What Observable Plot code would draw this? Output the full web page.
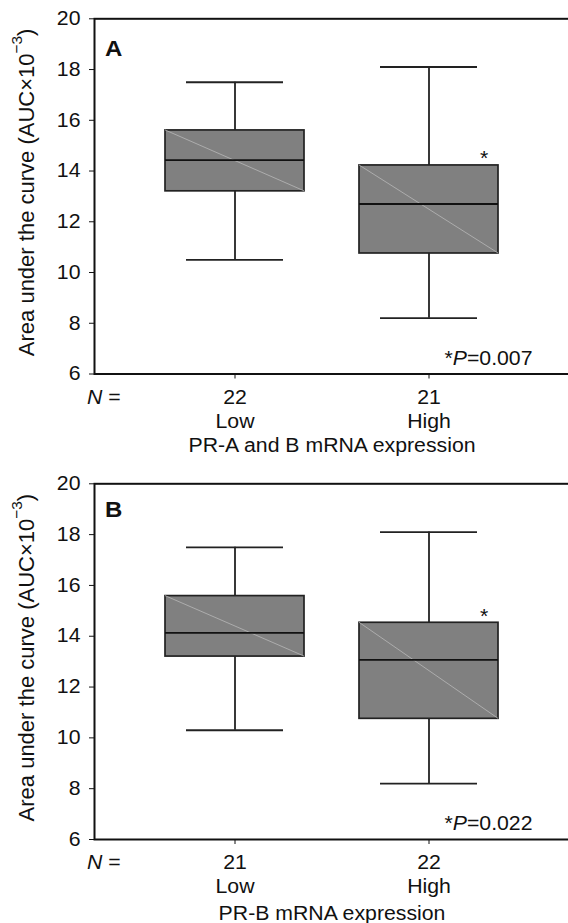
<!DOCTYPE html>
<html>
<head>
<meta charset="utf-8">
<script src="https://cdn.jsdelivr.net/npm/d3@7"></script>
<script src="https://cdn.jsdelivr.net/npm/@observablehq/plot@0.6"></script>
<style>
html, body { margin: 0; padding: 0; background: #fff; overflow: hidden; }
#chart { width: 568px; height: 923px; overflow: hidden; }
#chart svg { display: block; max-width: none !important; }
#chart svg text { font-family: "Liberation Sans", Arial, Helvetica, sans-serif; }
</style>
</head>
<body>
<div id="chart"></div>
<script>
// ---- data ----
const categories = ["Low", "High"];

// Panel A: PR-A and B mRNA expression
const aMin = [10.5, 8.2];
const aQ1 = [13.2, 10.75];
const aMedian = [14.43, 12.7];
const aQ3 = [15.6, 14.22];
const aMax = [17.5, 18.1];
const aN = [22, 21];

// Panel B: PR-B mRNA expression
const bMin = [10.3, 8.2];
const bQ1 = [13.2, 10.75];
const bMedian = [14.13, 13.07];
const bQ3 = [15.58, 14.53];
const bMax = [17.5, 18.1];
const bN = [21, 22];

const significant = [false, true];
const yTicks = [6, 8, 10, 12, 14, 16, 18, 20];
const panelLetters = ["A", "B"];
const xTitles = ["PR-A and B mRNA expression", "PR-B mRNA expression"];
const pLabels = ["*<i>P</i>=0.007", "*<i>P</i>=0.022"];
const yTitle = "Area under the curve (AUC×10<sup>−3</sup>)";
const nLabel = "<i>N</i> =";

// ---- drawing ----
const FONT = "'Liberation Sans', Arial, Helvetica, sans-serif";
const H_STRETCH = 1.09;

function rows(mn, q1, med, q3, mx, n) {
  return categories.map((c, i) => ({cat: c, min: mn[i], q1: q1[i], med: med[i], q3: q3[i], max: mx[i], n: n[i], star: significant[i]}));
}

function richify(svg) {
  svg.querySelectorAll("text").forEach(t => {
    const s = t.textContent;
    if (!/<(i|sup)>/.test(s)) return;
    while (t.firstChild) t.removeChild(t.firstChild);
    const re = /<(i|sup)>(.*?)<\/\1>/g;
    let last = 0, m, pendingReturn = false;
    const add = (txt, kind) => {
      if (!txt) return;
      const ts = document.createElementNS("http://www.w3.org/2000/svg", "tspan");
      ts.textContent = txt;
      if (kind === "i") ts.setAttribute("font-style", "italic");
      if (kind === "sup") { ts.setAttribute("font-size", "0.7em"); ts.setAttribute("dy", "-0.72em"); pendingReturn = true; }
      else if (pendingReturn) { ts.setAttribute("dy", "0.5em"); pendingReturn = false; }
      t.appendChild(ts);
    };
    while ((m = re.exec(s))) {
      add(s.slice(last, m.index), null);
      add(m[2], m[1]);
      last = re.lastIndex;
    }
    add(s.slice(last), null);
  });
}

function addDiagonals(svg) {
  svg.querySelectorAll('g[fill="#808080"] rect').forEach(r => {
    const x = +r.getAttribute("x"), y = +r.getAttribute("y");
    const w = +r.getAttribute("width"), h = +r.getAttribute("height");
    const ln = document.createElementNS("http://www.w3.org/2000/svg", "line");
    ln.setAttribute("x1", x); ln.setAttribute("y1", y);
    ln.setAttribute("x2", x + w); ln.setAttribute("y2", y + h);
    ln.setAttribute("stroke", "#b8b8b8");
    ln.setAttribute("stroke-width", "0.8");
    ln.setAttribute("fill", "none");
    r.parentNode.appendChild(ln);
  });
}

function stretchText(root) {
  root.querySelectorAll("svg text").forEach(t => {
    if ((t.getAttribute("transform") || "").includes("rotate")) return;
    const len = t.getComputedTextLength();
    if (len > 0) {
      t.setAttribute("textLength", (len * H_STRETCH).toFixed(2));
      t.setAttribute("lengthAdjust", "spacingAndGlyphs");
    }
  });
}

function panel(data, k, cfg) {
  const svg = Plot.plot({
    width: 570,
    height: cfg.height,
    marginLeft: 94,
    marginRight: 1,
    marginTop: cfg.marginTop,
    marginBottom: cfg.marginBottom,
    style: {fontFamily: FONT, fontSize: "19.5px", color: "#111", background: "transparent", overflow: "visible"},
    x: {domain: categories, paddingInner: 0.283, paddingOuter: 0.363, tickSize: 5, tickFormat: () => "", label: null},
    y: {domain: [6, 20], ticks: yTicks, tickSize: 5, tickPadding: 9, label: null},
    marks: [
      Plot.ruleX(data, {x: "cat", y1: "q3", y2: "max", stroke: "#222", strokeWidth: 1.8}),
      Plot.ruleX(data, {x: "cat", y1: "min", y2: "q1", stroke: "#222", strokeWidth: 1.8}),
      Plot.tickY(data, {x: "cat", y: "max", insetLeft: 21, insetRight: 21, stroke: "#222", strokeWidth: 1.8}),
      Plot.tickY(data, {x: "cat", y: "min", insetLeft: 21, insetRight: 21, stroke: "#222", strokeWidth: 1.8}),
      Plot.barY(data, {x: "cat", y1: "q1", y2: "q3", fill: "#808080", stroke: "#222", strokeWidth: 1.7}),
      Plot.tickY(data, {x: "cat", y: "med", stroke: "#111", strokeWidth: 1.8}),
      Plot.text(data.filter(d => d.star), {x: "cat", y: "q3", text: () => "*", dx: 55, lineAnchor: "bottom", fontSize: 19.5, fill: "#111"}),
      Plot.text(data, {x: "cat", text: d => String(d.n), frameAnchor: "bottom", dy: 29.5, lineAnchor: "bottom", fill: "#111"}),
      Plot.text(data, {x: "cat", text: "cat", frameAnchor: "bottom", dy: 53.5, lineAnchor: "bottom", fill: "#111"}),
      Plot.text([xTitles[k]], {text: d => d, frameAnchor: "bottom", dy: cfg.titleDy, lineAnchor: "bottom", fill: "#111"}),
      Plot.text([nLabel], {text: d => d, frameAnchor: "bottom-left", textAnchor: "start", dx: -7.5, dy: 29.5, lineAnchor: "bottom", fill: "#111"}),
      Plot.text([pLabels[k]], {text: d => d, frameAnchor: "bottom-right", textAnchor: "end", dx: -37, dy: -9.5, lineAnchor: "bottom", fill: "#111"}),
      Plot.text([panelLetters[k]], {text: d => d, frameAnchor: "top-left", textAnchor: "start", dx: 10.5, dy: cfg.letterDy, lineAnchor: "bottom", fontSize: 22, fontWeight: "bold", fill: "#111"}),
      Plot.text([yTitle], {text: d => d, frameAnchor: "left", rotate: -90, textAnchor: "middle", lineAnchor: "bottom", dx: -61, dy: -4, fontSize: 22, fill: "#111"}),
      Plot.frame({stroke: "#111", strokeWidth: 2})
    ]
  });
  richify(svg);
  addDiagonals(svg);
  return svg;
}

const chart = document.getElementById("chart");
chart.appendChild(panel(rows(aMin, aQ1, aMedian, aQ3, aMax, aN), 0, {height: 465, marginTop: 18.3, marginBottom: 91.5, titleDy: 78, letterDy: 36.7}));
chart.appendChild(panel(rows(bMin, bQ1, bMedian, bQ3, bMax, bN), 1, {height: 458, marginTop: 18.3, marginBottom: 84, titleDy: 80, letterDy: 32.7}));
stretchText(chart);
</script>
</body>
</html>
